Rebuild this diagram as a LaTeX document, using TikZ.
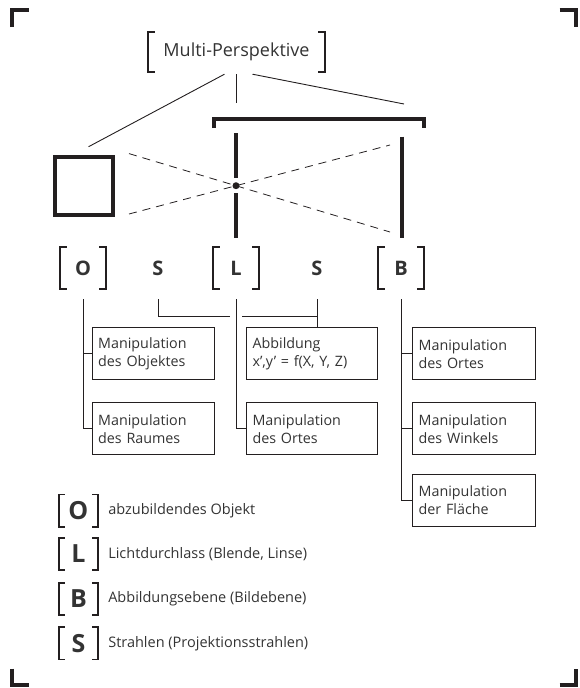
\documentclass[tikz,border=0pt]{standalone}
\usepackage{fontspec}
\setmainfont{Open Sans}
\usetikzlibrary{positioning}
\definecolor{ink}{HTML}{231F20}
\definecolor{txt}{HTML}{333333}

% square brackets round a node, #2 = length of the short arms
\newcommand{\bracketpair}[2]{%
  \draw[ink, line width=1.6pt] ([xshift=#2]#1.north west) -- (#1.north west) -- (#1.south west) -- ([xshift=#2]#1.south west);
  \draw[ink, line width=1.6pt] ([xshift=-#2]#1.north east) -- (#1.north east) -- (#1.south east) -- ([xshift=-#2]#1.south east);}

\begin{document}
\begin{tikzpicture}[x=1pt,y=-1pt,
  thin line/.style={draw=ink, line width=0.9pt},
  thick line/.style={draw=ink, line width=4pt},
  ray/.style={draw=ink, line width=0.8pt, dash pattern=on 8pt off 6pt},
  corner/.style={draw=ink, line width=4pt},
  mbox/.style={draw=ink, line width=1pt, align=left, text width=#1, inner xsep=6pt, inner ysep=4pt, minimum height=52pt, font=\fontsize{14.3}{18.3}\selectfont, text=txt},
  letter/.style={minimum width=46pt, minimum height=42pt, inner sep=0pt, font=\fontsize{20}{20}\selectfont\bfseries, text=txt},
  key/.style={minimum width=39pt, minimum height=32pt, inner sep=0pt, font=\fontsize{25}{25}\selectfont\bfseries, text=txt},
  keytext/.style={inner sep=0pt, font=\fontsize{14.5}{17}\selectfont, text=txt},
]
\useasboundingbox (0,0) rectangle (579,688);

% crop marks
\draw[corner] (12,27) -- (12,10.3) -- (29,10.3);
\draw[corner] (559.7,10.3) -- (576.3,10.3) -- (576.3,27);
\draw[corner] (12,668.7) -- (12,685) -- (29,685);
\draw[corner] (559.7,685) -- (576.3,685) -- (576.3,668.7);

% title
\node[minimum width=177pt, minimum height=40pt, inner sep=0pt, font=\fontsize{18}{20}\selectfont, text=txt] (mp) at (236.5,52) {Multi-Perspektive};
\bracketpair{mp}{7pt}

% object, lens, image plane
\node[draw=ink, line width=4pt, minimum size=58pt, inner sep=0pt] (obj) at (84,185.5) {};
\coordinate (lens) at (236,185.7);
\fill[ink] (lens) circle (3.5pt);
\draw[thick line] (236,133) -- (236,178);
\draw[thick line] (236,193) -- (236,238);
\draw[thick line] (402,136.7) -- (402,238);
\draw[thick line] (214,128) -- (214,118.7) -- (423.5,118.7) -- (423.5,128);
\draw[ray] (129,153.6) -- (390,232);
\draw[ray] (129,214) -- (390,145);

\draw[thin line] ([xshift=-12pt,yshift=-2pt]mp.south) -- (88.6,146.7);
\draw[thin line] ([yshift=-2pt]mp.south) -- ++(0,29);
\draw[thin line] ([xshift=16pt,yshift=-2pt]mp.south) -- (404,104);

% letters
\node[letter] (o) at (83,268) {O};
\node[letter] (s1) at (158,268) {S};
\node[letter] (l) at (236,268) {L};
\node[letter] (s2) at (317,268) {S};
\node[letter] (b) at (401,268) {B};
\bracketpair{o}{7pt}
\bracketpair{l}{7pt}
\bracketpair{b}{7pt}

% boxes
\node[mbox=110pt] (ob1) at (153.2,353.8) {Manipulation\\des Objektes};
\node[mbox=110pt] (ob2) at (153.2,428.8) {Manipulation\\des Raumes};
\node[mbox=118.5pt] (ab) at (311.8,353.8) {Abbildung\\x’,y’ = f(X, Y, Z)};
\node[mbox=118.5pt] (lb2) at (311.8,428.8) {Manipulation\\des Ortes};
\node[mbox=111pt] (bb1) at (474.2,353.8) {Manipulation\\des Ortes};
\node[mbox=111pt] (bb2) at (474.2,428.8) {Manipulation\\des Winkels};
\node[mbox=111pt] (bb3) at (474.2,500) {Manipulation\\der Fläche};

% connectors
\draw[thin line] ([yshift=-10pt]o.south) |- (ob2.west);
\draw[thin line] (o.south |- ob1.west) -- (ob1.west);
\draw[thin line] ([yshift=-10pt]l.south) |- (lb2.west);
\draw[thin line] ([yshift=-10pt]b.south) |- (bb3.west);
\draw[thin line] (b.south |- bb1.west) -- (bb1.west);
\draw[thin line] (b.south |- bb2.west) -- (bb2.west);
\coordinate (hop) at (236,316.7);
\draw[thin line] ([yshift=-10pt]s1.south) |- ([xshift=-6pt]hop);
\draw[thin line] ([xshift=6pt]hop) -| ([yshift=-10pt]s2.south);
\draw[thin line] ([yshift=-10pt]s2.south) -- (s2.south |- ab.north);

% legend
\node[key] (ko) at (78.4,510.5) {O};
\node[key] (kl) at (78.4,554) {L};
\node[key] (kb) at (78.4,599) {B};
\node[key] (ks) at (78.4,643.4) {S};
\bracketpair{ko}{6pt}
\bracketpair{kl}{6pt}
\bracketpair{kb}{6pt}
\bracketpair{ks}{6pt}
\node[keytext, right=10pt of ko] {abzubildendes Objekt};
\node[keytext, right=10pt of kl] {Lichtdurchlass (Blende, Linse)};
\node[keytext, right=10pt of kb] {Abbildungsebene (Bildebene)};
\node[keytext, right=10pt of ks] {Strahlen (Projektionsstrahlen)};
\end{tikzpicture}
\end{document}
